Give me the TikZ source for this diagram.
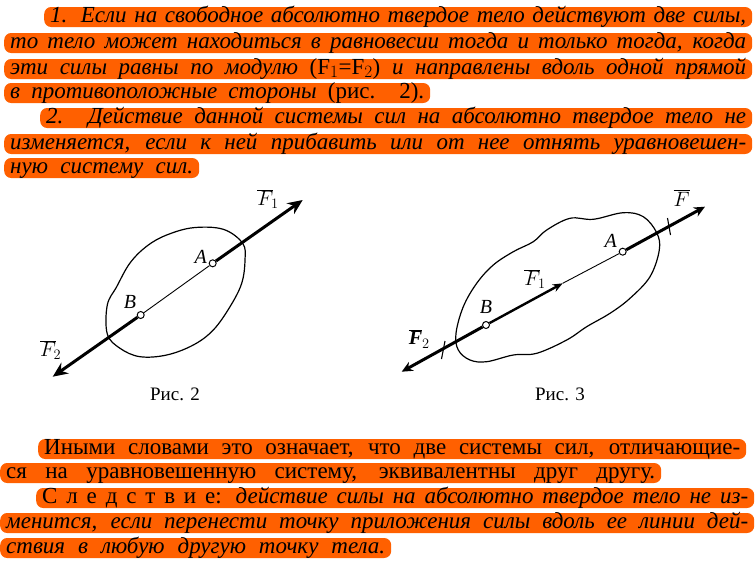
\documentclass[tikz,border=0pt]{standalone}
\usepackage{fontspec}
\setmainfont{Liberation Serif}
\usepackage{xcolor}
\usetikzlibrary{arrows.meta,positioning}
\definecolor{markorange}{RGB}{255,96,0}
\newcommand{\markline}[5]{\node[orangebar,minimum width=#3] (#1) at (#2,#4) {\makebox[\dimexpr #3pt-12pt\relax][s]{#5}};}

\begin{document}
\begin{tikzpicture}[x=1pt,y=-1pt,>=Stealth,
  orangebar/.style={fill=markorange,rounded corners=7pt,anchor=west,inner sep=0pt,minimum height=20pt,text height=14pt,text depth=4pt,font=\fontsize{23}{23}\selectfont},
  body/.style={draw,line width=1.2pt},
  forcea/.style={line width=3pt,-{Stealth[length=15pt,width=13pt]}},
  forceb/.style={line width=3pt,-{Stealth[length=11pt,width=10pt]}},
  thinline/.style={line width=0.9pt},
  hitch/.style={line width=1.1pt},
  pin/.style={circle,draw,fill=white,line width=1pt,inner sep=0pt,minimum size=7pt},
  letter/.style={font=\fontsize{20}{20}\selectfont},
  caption/.style={font=\fontsize{19}{19}\selectfont}]
\useasboundingbox (0,0) rectangle (756,562);
% text above the figures
\markline{la}{44}{708}{17}{\itshape 1. Если на свободное абсолютно твердое тело действуют две силы,}
\markline{lb}{4}{748}{43}{\itshape то тело может находиться в равновесии тогда и только тогда, когда}
\markline{lc}{4}{748}{69}{\itshape эти силы равны по модулю {\upshape (F$_1$=F$_2$)} и направлены вдоль одной прямой}
\markline{ld}{4}{426}{93}{\itshape в противоположные стороны {\upshape (рис. 2).}}
\markline{le}{40}{712}{118}{\itshape 2. Действие данной системы сил на абсолютно твердое тело не}
\markline{lf}{4}{748}{144}{\itshape изменяется, если к ней прибавить или от нее отнять уравновешен-}
\markline{lg}{4}{195}{168}{\itshape ную систему сил.}
% text below the figures
\markline{ma}{38}{708}{449}{Иными словами это означает, что две системы сил, отличающие-}
\markline{mb}{0}{661}{473}{ся на уравновешенную систему, эквивалентны друг другу.}
\markline{mc}{36}{718}{498}{С л е д с т в и е: {\itshape действие силы на абсолютно твердое тело не из-}}
\markline{md}{0}{754}{523}{\itshape менится, если перенести точку приложения силы вдоль ее линии дей-}
\markline{me}{0}{391}{548}{\itshape ствия в любую другую точку тела.}
% figure 2
\draw[body] plot[smooth cycle,tension=0.6] coordinates {(242.7,243.3)(223.3,229.3)(193.3,227.7)(166.7,235)(147,246)(130,263)(116.7,286.7)(107.3,305)(107.3,334)(120,348.3)(140,356.7)(166.7,355)(193.3,345)(213.3,330)(230,306.7)(241.7,283.3)(245,260)};
\node[pin] (aa) at (212.7,263.3) {};
\node[pin] (ab) at (140.7,315) {};
\coordinate (tipa) at (302.7,200);
\coordinate (tipb) at (52.7,376.7);
\draw[thinline] (aa) -- (ab);
\draw[forcea] (aa) -- (tipa);
\draw[forcea] (ab) -- (tipb);
\node[letter] (fa) at (268,199) {$\overline{F}_{\!1}$};
\node[letter] (fb) at (50.7,350) {$\overline{F}_{\!2}$};
\node[letter] (na) at (200.7,257) {\itshape A};
\node[letter] (nb) at (130,301.7) {\itshape B};
\node[caption] (capa) at (175,394) {Рис. 2};
% figure 3
\draw[body] plot[smooth cycle,tension=0.6] coordinates {(656.7,232.7)(643.3,216.7)(623.3,212.7)(593.3,219.3)(570,218.3)(546.7,230)(533.3,241.7)(513.3,251.7)(493.3,265)(476.7,283.3)(463.3,306.7)(456,333.3)(458.3,350)(470,360)(486.7,361.7)(513.3,355)(536.7,353.3)(566.7,340)(586.7,326.7)(610,313.3)(630,298.3)(650,276.7)(659.3,250)};
\node[pin] (ba) at (622.7,251.7) {};
\node[pin] (bb) at (486,325) {};
\coordinate (tipc) at (705,206.7);
\coordinate (tipd) at (401.7,371.7);
\coordinate (tipe) at (562.7,283.3);
\draw[thinline] (ba) -- (tipe);
\draw[forceb] (ba) -- (tipc);
\draw[forceb] (bb) -- (tipd);
\draw[line width=2.4pt,-{Stealth[length=10pt,width=8pt]}] (bb) -- (tipe);
\coordinate (hca) at (667.5,218);
\coordinate (hcb) at (670.5,235);
\coordinate (hda) at (445,341);
\coordinate (hdb) at (441.5,359);
\draw[hitch] (hca) -- (hcb);
\draw[hitch] (hda) -- (hdb);
\node[letter] (fc) at (681.7,198) {$\overline{F}$};
\node[letter] (fd) at (535,279) {$\overline{F}_{\!1}$};
\node[letter] (fe) at (419.3,339) {$\overline{\textbf{\textit{F}}}_{2}$};
\node[letter] (nc) at (610.7,240.7) {\itshape A};
\node[letter] (nd) at (486,306.7) {\itshape B};
\node[caption] (capb) at (560,394) {Рис. 3};
\end{tikzpicture}
\end{document}
